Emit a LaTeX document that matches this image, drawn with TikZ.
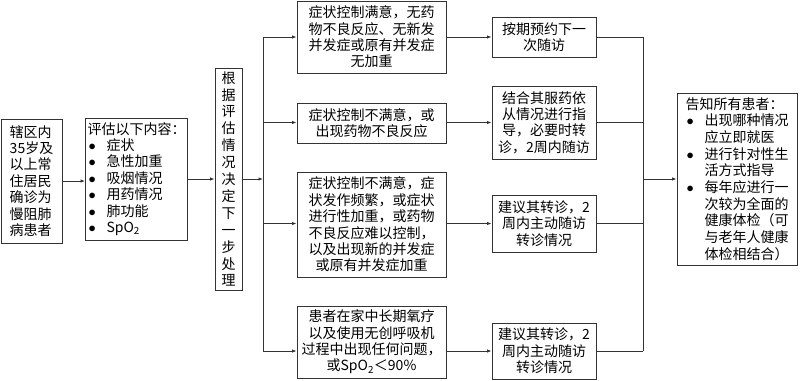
\documentclass[tikz,border=0pt]{standalone}
\usepackage{fontspec}
\setmainfont{Noto Sans CJK SC}
\usetikzlibrary{arrows.meta}
\newcommand{\blt}{\makebox[19pt][l]{\hspace{1pt}$\bullet$}}
\newcommand{\ind}{\hspace*{19pt}}

\begin{document}
\begin{tikzpicture}[
  x=1pt, y=-1pt,
  box/.style={draw=black!80, line width=0.9pt, inner sep=2pt, align=center,
    font=\fontsize{14}{16.4}\selectfont},
  link/.style={line width=0.8pt, black!80},
  vec/.style={link, -{Latex[length=4.5pt, width=3.5pt]}}
]
  \useasboundingbox (0,0) rectangle (800,380);

  \node[box, align=left, minimum width=61pt, minimum height=124pt] (resident) at (31.5,181)
    {辖区内\\35岁及\\以上常\\住居民\\确诊为\\慢阻肺\\病患者};
  \node[box, align=left, minimum width=99pt, minimum height=122pt] (assess) at (136.5,179)
    {评估以下内容：\\ \blt 症状\\ \blt 急性加重\\ \blt 吸烟情况\\ \blt 用药情况\\
     \blt 肺功能\\ \blt SpO\textsubscript{2}};
  \node[box, font=\fontsize{14}{16.9}\selectfont, minimum width=27pt, minimum height=222pt] (decide) at (228.5,179)
    {根\\据\\评\\估\\情\\况\\决\\定\\下\\一\\步\\处\\理};

  \node[box, minimum width=149pt, minimum height=72pt] (good) at (371.5,37)
    {症状控制满意，无药\\物不良反应、无新发\\并发症或原有并发症\\无加重};
  \node[box, minimum width=149pt, minimum height=40pt] (poor) at (371.5,123)
    {症状控制不满意，或\\出现药物不良反应};
  \node[box, minimum width=149pt, minimum height=105pt] (worse) at (371.5,224.5)
    {症状控制不满意，症\\状发作频繁，或症状\\进行性加重，或药物\\不良反应难以控制，\\以及出现新的并发症\\或原有并发症加重};
  \node[box, minimum width=149pt, minimum height=72pt] (home) at (371.5,342)
    {患者在家中长期氧疗\\以及使用无创呼吸机\\过程中出现任何问题，\\或SpO\textsubscript{2}＜90\%};

  \node[box, minimum width=104pt, minimum height=40pt] (next) at (544,37)
    {按期预约下一\\次随访};
  \node[box, minimum width=104pt, minimum height=73pt] (guide) at (544,122.5)
    {结合其服药依\\从情况进行指\\导，必要时转\\诊，2周内随访};
  \node[box, minimum width=104pt, minimum height=57pt] (refer) at (544,223.5)
    {建议其转诊，2\\周内主动随访\\转诊情况};
  \node[box, minimum width=104pt, minimum height=56pt] (referb) at (544,351)
    {建议其转诊，2\\周内主动随访\\转诊情况};

  \node[box, align=left, minimum width=120pt, minimum height=172pt,
        font=\fontsize{14}{16.7}\selectfont] (tell) at (737,179)
    {告知所有患者：\\ \blt 出现哪种情况\\ \ind 应立即就医\\ \blt 进行针对性生\\ \ind 活方式指导\\
     \blt 每年应进行一\\ \ind 次较为全面的\\ \ind 健康体检（可\\ \ind 与老年人健康\\ \ind 体检相结合）};

  \coordinate (trunk) at (263,179);
  \coordinate (merge) at (643,179);

  % left part
  \draw[vec] (resident.east) -- (resident.east -| assess.west);
  \draw[vec] (assess.east |- decide.east) -- (decide.west);
  \draw[vec] (decide.east) -- (trunk);
  \draw[link] (next -| trunk) -- (referb -| trunk);

  % branches
  \foreach \a/\b in {good/next, poor/guide, worse/refer, home/referb} {
    \draw[vec] (\b -| trunk) -- (\b -| \a.west);
    \draw[vec] (\b -| \a.east) -- (\b.west);
    \draw[link] (\b.east) -- (\b -| merge);
  }

  % right part
  \draw[link] (next -| merge) -- (referb -| merge);
  \draw[vec] (merge) -- (tell.west);
\end{tikzpicture}
\end{document}
